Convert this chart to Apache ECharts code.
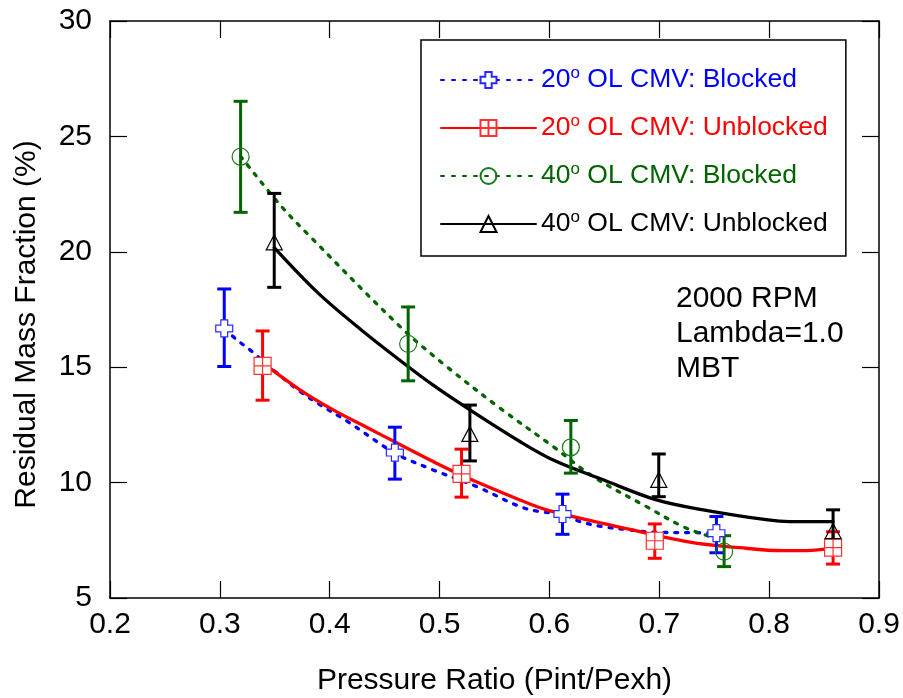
<!DOCTYPE html>
<html>
<head>
<meta charset="utf-8">
<title>Residual Mass Fraction</title>
<script src="https://cdn.jsdelivr.net/npm/echarts@6/dist/echarts.min.js"></script>
<style>
    html, body { margin: 0; padding: 0; background: #fff; }
    #chart { width: 903px; height: 698px; }
</style>
</head>
<body>
<div id="chart"></div>
<script>
// measured points (x = pressure ratio, y = residual %, lo/hi = error bar ends)
var b20X = [0.304, 0.4593, 0.6119, 0.752],
    b20Y = [16.68, 11.30, 8.64, 7.81],
    b20Lo = [15.03, 10.15, 7.76, 6.96],
    b20Hi = [18.39, 12.40, 9.50, 8.53];

var u20X = [0.3389, 0.520, 0.6959, 0.8582],
    u20Y = [15.06, 10.38, 7.48, 7.18],
    u20Lo = [13.57, 9.37, 6.72, 6.47],
    u20Hi = [16.57, 11.45, 8.21, 7.87];

var b40X = [0.3189, 0.4714, 0.6195, 0.759],
    b40Y = [24.12, 16.01, 11.53, 7.01],
    b40Lo = [21.71, 14.41, 10.41, 6.36],
    b40Hi = [26.52, 17.61, 12.69, 7.70];

var u40X = [0.3495, 0.5276, 0.6995, 0.8582],
    u40Y = [20.41, 12.11, 10.12, 7.90],
    u40Lo = [18.46, 10.94, 9.39, 7.30],
    u40Hi = [22.53, 13.36, 11.24, 8.82];

// fitted curves
var b20FitX = [0.304, 0.3153, 0.3274, 0.3729, 0.4184, 0.4593, 0.4941, 0.5336, 0.5731, 0.5913, 0.6119, 0.6277, 0.6488, 0.6731, 0.6943, 0.7337, 0.752],
    b20FitY = [16.68, 16.19, 15.75, 13.95, 12.58, 11.28, 10.55, 9.83, 8.96, 8.74, 8.64, 8.31, 8.09, 7.95, 7.85, 7.83, 7.81];

var u20FitX = [0.3389, 0.3729, 0.4032, 0.4335, 0.4639, 0.4942, 0.5246, 0.5731, 0.5974, 0.655, 0.7278, 0.7732, 0.8127, 0.8339, 0.8582],
    u20FitY = [15.2, 14.02, 13.15, 12.40, 11.65, 10.91, 10.22, 9.25, 8.82, 8.17, 7.42, 7.18, 7.05, 7.05, 7.17];

var b40FitX = [0.3189, 0.3547, 0.382, 0.4654, 0.5064, 0.5549, 0.6034, 0.6398, 0.6883, 0.7217, 0.7459, 0.759],
    b40FitY = [24.14, 22.04, 20.67, 16.70, 15.03, 13.23, 11.56, 10.26, 8.96, 8.09, 7.66, 7.45];

var u40FitX = [0.3495, 0.3895, 0.4305, 0.4639, 0.4942, 0.5276, 0.5731, 0.6034, 0.6489, 0.6974, 0.7399, 0.799, 0.8187, 0.8582],
    u40FitY = [20.18, 18.21, 16.55, 15.30, 14.22, 13.15, 11.78, 10.98, 10.12, 9.25, 8.82, 8.38, 8.31, 8.31];

var names = ["20° OL CMV: Blocked", "20° OL CMV: Unblocked", "40° OL CMV: Blocked", "40° OL CMV: Unblocked"];
var notes = ["2000 RPM", "Lambda=1.0", "MBT"];

var FONT = "Liberation Sans, Arial, sans-serif";
var BLUE = "#0000ff", RED = "#ff0000", GREEN = "#006400", BLACK = "#000000";

var CROSS = "path://M3,0H7V3H10V7H7V10H3V7H0V3H3Z",
    SQUARE = "path://M0,0H10V10H0Z M5,0V10 M0,5H10";

function zip(a, b) {
    return a.map(function(v, i) { return [v, b[i]]; });
}

function zip3(a, b, c) {
    return a.map(function(v, i) { return [v, b[i], c[i]]; });
}

function errBar(color) {
    return function(params, api) {
        var x = api.value(0),
            lo = api.coord([x, api.value(1)]),
            hi = api.coord([x, api.value(2)]),
            w = 7,
            st = { stroke: color, lineWidth: 3, fill: null };
        return {
            type: "group",
            children: [
                { type: "line", shape: { x1: lo[0], y1: lo[1], x2: hi[0], y2: hi[1] }, style: st },
                { type: "line", shape: { x1: lo[0] - w, y1: lo[1], x2: lo[0] + w, y2: lo[1] }, style: st },
                { type: "line", shape: { x1: hi[0] - w, y1: hi[1], x2: hi[0] + w, y2: hi[1] }, style: st }
            ]
        };
    };
}

var groups = [
    { name: names[0], color: BLUE, dash: [3, 8], sym: CROSS, size: 17, fill: "#ffffff", edge: "#2a2aff",
      fit: zip(b20FitX, b20FitY), pts: zip(b20X, b20Y), bars: zip3(b20X, b20Lo, b20Hi) },
    { name: names[1], color: RED, dash: "solid", sym: SQUARE, size: 17, fill: "#ffffff", edge: "#ff3030",
      fit: zip(u20FitX, u20FitY), pts: zip(u20X, u20Y), bars: zip3(u20X, u20Lo, u20Hi) },
    { name: names[2], color: GREEN, dash: [3, 8], sym: "circle", size: 17, fill: "rgba(0,0,0,0)", edge: "#1a7a1a",
      fit: zip(b40FitX, b40FitY), pts: zip(b40X, b40Y), bars: zip3(b40X, b40Lo, b40Hi) },
    { name: names[3], color: BLACK, dash: "solid", sym: "triangle", size: [16, 15], fill: "rgba(0,0,0,0)", edge: "#000000",
      fit: zip(u40FitX, u40FitY), pts: zip(u40X, u40Y), bars: zip3(u40X, u40Lo, u40Hi) }
];

var series = [];
groups.forEach(function(g) {
    series.push({
        name: g.name,
        type: "line",
        data: g.fit,
        smooth: 0.35,
        showSymbol: false,
        symbol: g.sym,
        symbolSize: g.size,
        itemStyle: { color: g.fill, borderColor: g.edge, borderWidth: 1.2 },
        lineStyle: { color: g.color, width: 3.3, type: g.dash, cap: "round" },
        silent: true,
        z: 2
    });
});
groups.forEach(function(g, i) {
    series.push({
        name: "bars" + i,
        type: "custom",
        renderItem: errBar(g.color),
        data: g.bars,
        encode: { x: 0, y: [1, 2] },
        silent: true,
        z: 3
    });
});
groups.forEach(function(g, i) {
    series.push({
        name: "pts" + i,
        type: "scatter",
        data: g.pts,
        symbol: g.sym,
        symbolSize: g.size,
        itemStyle: { color: g.fill, borderColor: g.edge, borderWidth: 1.2, opacity: 1 },
        silent: true,
        z: 4
    });
});

var tickStyle = { show: true, inside: true, length: 17, lineStyle: { color: "#000", width: 1.2 } };
var lineStyle = { show: true, lineStyle: { color: "#000", width: 1.5 } };

var chart = echarts.init(document.getElementById("chart"));
chart.setOption({
    animation: false,
    backgroundColor: "#fff",
    grid: { left: 110, right: 24, top: 21, bottom: 100, outerBoundsMode: "none", containLabel: false },
    xAxis: [{
        type: "value", position: "bottom", min: 0.2, max: 0.9, interval: 0.1,
        axisLine: lineStyle, axisTick: tickStyle, splitLine: { show: false },
        axisLabel: {
            margin: 12, color: "#000", fontFamily: FONT, fontSize: 30,
            formatter: function(v) { return v.toFixed(1); }
        },
        name: "Pressure Ratio (Pint/Pexh)", nameLocation: "middle", nameGap: 68,
        nameTextStyle: { color: "#000", fontFamily: FONT, fontSize: 30 }
    }, {
        type: "value", position: "top", min: 0.2, max: 0.9, interval: 0.1,
        axisLine: lineStyle, axisTick: tickStyle, axisLabel: { show: false }, splitLine: { show: false }
    }],
    yAxis: [{
        type: "value", position: "left", min: 5, max: 30, interval: 5,
        axisLine: lineStyle, axisTick: tickStyle, splitLine: { show: false },
        axisLabel: { margin: 18, color: "#000", fontFamily: FONT, fontSize: 30 },
        name: "Residual Mass Fraction (%)", nameLocation: "middle", nameGap: 68,
        nameTextStyle: { color: "#000", fontFamily: FONT, fontSize: 30, padding: [0, 30, 0, 0] }
    }, {
        type: "value", position: "right", min: 5, max: 30, interval: 5,
        axisLine: lineStyle, axisTick: tickStyle, axisLabel: { show: false }, splitLine: { show: false }
    }],
    legend: {
        orient: "vertical",
        left: 421,
        top: 40,
        padding: [25, 18, 17, 19],
        itemGap: 18,
        itemWidth: 95,
        itemHeight: 20,
        borderColor: "#000",
        borderWidth: 1.5,
        backgroundColor: "#fff",
        selectedMode: false,
        data: groups.map(function(g) {
            return { name: g.name, textStyle: { color: g.color } };
        }),
        formatter: function(name) {
            return name.replace(/^(\d+)° (.*)$/, "{n|$1}{s|o}{n| $2}");
        },
        textStyle: {
            fontFamily: FONT,
            fontSize: 26,
            lineHeight: 30,
            rich: {
                n: { fontFamily: FONT, fontSize: 26.5, lineHeight: 30 },
                s: { fontFamily: FONT, fontSize: 17, lineHeight: 17, verticalAlign: "top" }
            }
        }
    },
    graphic: [{
        type: "text",
        left: 676,
        top: 281,
        style: {
            text: notes.join("\n"),
            fill: "#000",
            font: "30px " + FONT,
            lineHeight: 35
        }
    }],
    series: series
});
</script>
</body>
</html>
